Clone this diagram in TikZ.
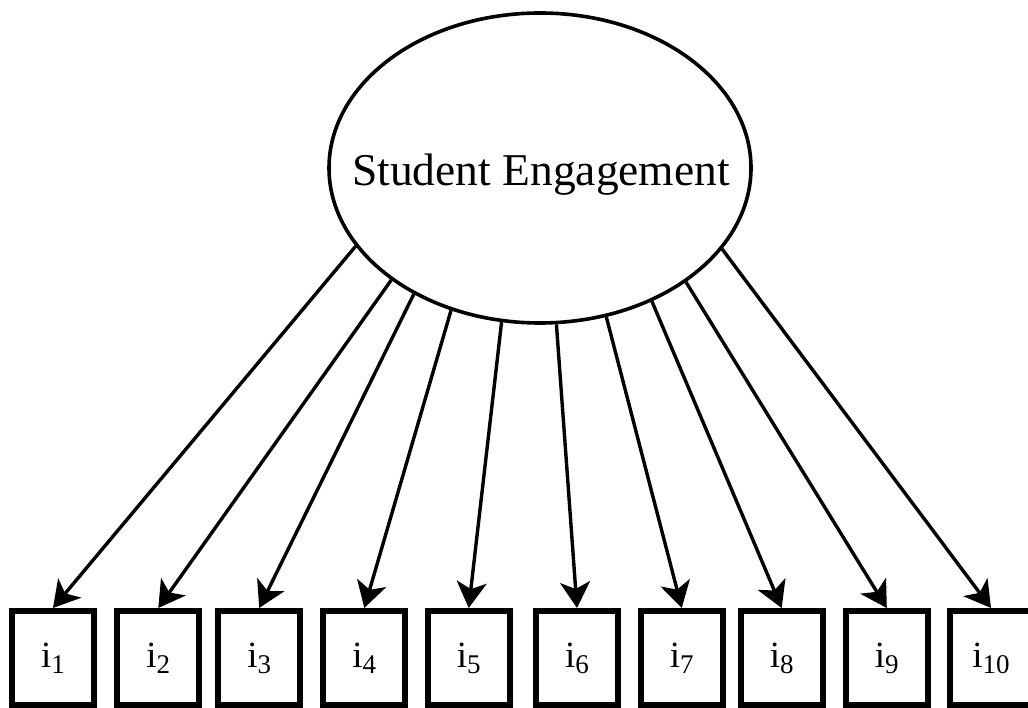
\documentclass[tikz,border=0pt]{standalone}
\usepackage{fontspec}
\setmainfont{Liberation Serif}
\usetikzlibrary{shapes.geometric,arrows.meta}
\newcommand{\itemlbl}[1]{i\raisebox{-6pt}{\fontsize{27}{27}\selectfont #1}}
\begin{document}
\begin{tikzpicture}[x=1pt,y=-1pt,
  latent/.style={ellipse, draw, line width=3.6pt, minimum width=422pt, minimum height=310pt, inner sep=0pt},
  latentlbl/.style={anchor=base, inner sep=0pt, font=\fontsize{45.5}{46}\selectfont},
  indicator/.style={rectangle, draw, line width=6pt, minimum width=82pt, minimum height=94pt, inner sep=0pt, font=\fontsize{37}{37}\selectfont},
  load/.style={line width=3.4pt, -{Stealth[length=26pt,width=30pt,inset=7pt]}}]
\useasboundingbox (0,0) rectangle (1028,708);
\node[latent] (E) at (540,168) {};
\node[latentlbl] (T) at (541,186) {Student Engagement};
\foreach \n/\x in {1/53,2/158.3,3/259.2,4/364.3,5/468.7,6/577,7/681.8,8/781.7,9/886.8,10/991}
  \node[indicator] (i\n) at (\x,658) {\itemlbl{\n}};
\foreach \n/\a in {1/203.5,2/217.2,3/225,4/238.2,5/256.5,6/276.3,7/294.8,8/310.6,9/322.8,10/336.6}
  \draw[load] (E.\a) -- (i\n.north);
\end{tikzpicture}
\end{document}
